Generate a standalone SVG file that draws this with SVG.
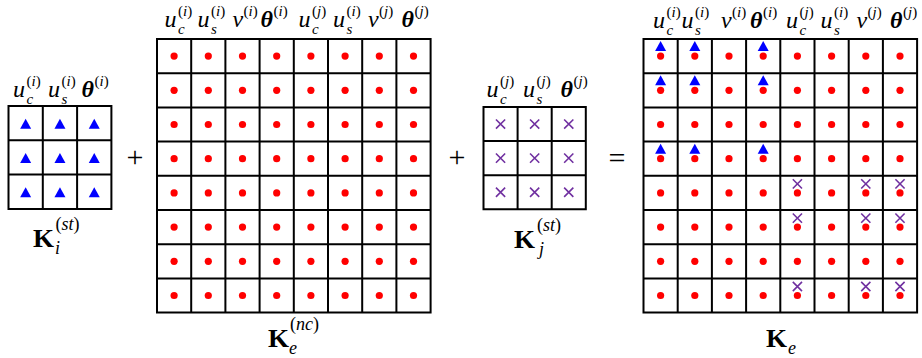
<svg xmlns="http://www.w3.org/2000/svg" xmlns:xlink="http://www.w3.org/1999/xlink" width="922" height="358" viewBox="0 0 922 358">
<style>
.m{font-family:"Liberation Serif",serif;font-style:italic;font-size:24px}
.th{font-family:"Liberation Serif",serif;font-style:italic;font-weight:bold;font-size:24px}
.s{font-family:"Liberation Serif",serif;font-size:15px}
.i{font-style:italic}
.k{font-family:"Liberation Serif",serif;font-weight:bold;font-size:25px}
.ks{font-family:"Liberation Serif",serif;font-size:18px}
.op{font-family:"Liberation Serif",serif;font-size:30px;text-anchor:middle}
.g{fill:none;stroke:#000;stroke-width:2}
</style>
<defs>
<circle id="d" r="3.6" fill="#ff0000"/>
<path id="t" d="M0,-5L5.5,5L-5.5,5Z" fill="#0000ff"/>
<path id="x" d="M-4.6,-4.6L4.6,4.6M4.6,-4.6L-4.6,4.6" stroke="#7030a0" stroke-width="1.6" fill="none"/>
</defs>
<rect width="922" height="358" fill="#fff"/>

<g id="Ki_st">
<text class="m" x="13" y="96.5">u</text><text class="s" x="26.5" y="85.5">(<tspan class="i">i</tspan>)</text><text class="s i" x="26.5" y="103.5">c</text>
<text class="m" x="48" y="96.5">u</text><text class="s" x="61.5" y="85.5">(<tspan class="i">i</tspan>)</text><text class="s i" x="61.5" y="103.5">s</text>
<text class="th" x="81.5" y="96.5">θ</text><text class="s" x="94.5" y="85.5">(<tspan class="i">i</tspan>)</text>
<path class="g" d="M8.5,106H111.4V208.9H8.5Z M42.8,106V208.9 M77.1,106V208.9 M8.5,140.3H111.4 M8.5,174.6H111.4"/>
<use xlink:href="#t" x="25.65" y="123.65"/><use xlink:href="#t" x="59.95" y="123.65"/><use xlink:href="#t" x="94.25" y="123.65"/>
<use xlink:href="#t" x="25.65" y="157.95"/><use xlink:href="#t" x="59.95" y="157.95"/><use xlink:href="#t" x="94.25" y="157.95"/>
<use xlink:href="#t" x="25.65" y="192.25"/><use xlink:href="#t" x="59.95" y="192.25"/><use xlink:href="#t" x="94.25" y="192.25"/>
<text class="k" x="33" y="247" textLength="21" lengthAdjust="spacingAndGlyphs">K</text>
<text class="ks" x="55.5" y="230">(<tspan class="i">st</tspan>)</text>
<text class="ks i" x="55" y="254">i</text>
</g>

<g id="Ke_nc">
<text class="m" x="164.5" y="27">u</text><text class="s" x="178" y="16">(<tspan class="i">i</tspan>)</text><text class="s i" x="178" y="34">c</text>
<text class="m" x="197.5" y="27">u</text><text class="s" x="211" y="16">(<tspan class="i">i</tspan>)</text><text class="s i" x="211" y="34">s</text>
<text class="m" x="232.5" y="27">v</text><text class="s" x="243.5" y="16">(<tspan class="i">i</tspan>)</text>
<text class="th" x="260.5" y="27">θ</text><text class="s" x="273.5" y="16">(<tspan class="i">i</tspan>)</text>
<text class="m" x="298.5" y="27">u</text><text class="s" x="312" y="16">(<tspan class="i">j</tspan>)</text><text class="s i" x="312" y="34">c</text>
<text class="m" x="333" y="27">u</text><text class="s" x="346.5" y="16">(<tspan class="i">i</tspan>)</text><text class="s i" x="346.5" y="34">s</text>
<text class="m" x="368" y="27">v</text><text class="s" x="379" y="16">(<tspan class="i">j</tspan>)</text>
<text class="th" x="401.5" y="27">θ</text><text class="s" x="414.5" y="16">(<tspan class="i">j</tspan>)</text>
<path class="g" d="M157,39H430.6V312.6H157Z M191.2,39V312.6 M225.4,39V312.6 M259.6,39V312.6 M293.8,39V312.6 M328,39V312.6 M362.2,39V312.6 M396.4,39V312.6 M157,73.2H430.6 M157,107.4H430.6 M157,141.6H430.6 M157,175.8H430.6 M157,210H430.6 M157,244.2H430.6 M157,278.4H430.6"/>
<g>
<use xlink:href="#d" x="174.1" y="56.1"/><use xlink:href="#d" x="208.3" y="56.1"/><use xlink:href="#d" x="242.5" y="56.1"/><use xlink:href="#d" x="276.7" y="56.1"/><use xlink:href="#d" x="310.9" y="56.1"/><use xlink:href="#d" x="345.1" y="56.1"/><use xlink:href="#d" x="379.3" y="56.1"/><use xlink:href="#d" x="413.5" y="56.1"/>
<use xlink:href="#d" x="174.1" y="90.3"/><use xlink:href="#d" x="208.3" y="90.3"/><use xlink:href="#d" x="242.5" y="90.3"/><use xlink:href="#d" x="276.7" y="90.3"/><use xlink:href="#d" x="310.9" y="90.3"/><use xlink:href="#d" x="345.1" y="90.3"/><use xlink:href="#d" x="379.3" y="90.3"/><use xlink:href="#d" x="413.5" y="90.3"/>
<use xlink:href="#d" x="174.1" y="124.5"/><use xlink:href="#d" x="208.3" y="124.5"/><use xlink:href="#d" x="242.5" y="124.5"/><use xlink:href="#d" x="276.7" y="124.5"/><use xlink:href="#d" x="310.9" y="124.5"/><use xlink:href="#d" x="345.1" y="124.5"/><use xlink:href="#d" x="379.3" y="124.5"/><use xlink:href="#d" x="413.5" y="124.5"/>
<use xlink:href="#d" x="174.1" y="158.7"/><use xlink:href="#d" x="208.3" y="158.7"/><use xlink:href="#d" x="242.5" y="158.7"/><use xlink:href="#d" x="276.7" y="158.7"/><use xlink:href="#d" x="310.9" y="158.7"/><use xlink:href="#d" x="345.1" y="158.7"/><use xlink:href="#d" x="379.3" y="158.7"/><use xlink:href="#d" x="413.5" y="158.7"/>
<use xlink:href="#d" x="174.1" y="192.9"/><use xlink:href="#d" x="208.3" y="192.9"/><use xlink:href="#d" x="242.5" y="192.9"/><use xlink:href="#d" x="276.7" y="192.9"/><use xlink:href="#d" x="310.9" y="192.9"/><use xlink:href="#d" x="345.1" y="192.9"/><use xlink:href="#d" x="379.3" y="192.9"/><use xlink:href="#d" x="413.5" y="192.9"/>
<use xlink:href="#d" x="174.1" y="227.1"/><use xlink:href="#d" x="208.3" y="227.1"/><use xlink:href="#d" x="242.5" y="227.1"/><use xlink:href="#d" x="276.7" y="227.1"/><use xlink:href="#d" x="310.9" y="227.1"/><use xlink:href="#d" x="345.1" y="227.1"/><use xlink:href="#d" x="379.3" y="227.1"/><use xlink:href="#d" x="413.5" y="227.1"/>
<use xlink:href="#d" x="174.1" y="261.3"/><use xlink:href="#d" x="208.3" y="261.3"/><use xlink:href="#d" x="242.5" y="261.3"/><use xlink:href="#d" x="276.7" y="261.3"/><use xlink:href="#d" x="310.9" y="261.3"/><use xlink:href="#d" x="345.1" y="261.3"/><use xlink:href="#d" x="379.3" y="261.3"/><use xlink:href="#d" x="413.5" y="261.3"/>
<use xlink:href="#d" x="174.1" y="295.5"/><use xlink:href="#d" x="208.3" y="295.5"/><use xlink:href="#d" x="242.5" y="295.5"/><use xlink:href="#d" x="276.7" y="295.5"/><use xlink:href="#d" x="310.9" y="295.5"/><use xlink:href="#d" x="345.1" y="295.5"/><use xlink:href="#d" x="379.3" y="295.5"/><use xlink:href="#d" x="413.5" y="295.5"/>
</g>
<text class="k" x="268" y="347" textLength="21" lengthAdjust="spacingAndGlyphs">K</text>
<text class="ks" x="290" y="330">(<tspan class="i">nc</tspan>)</text>
<text class="ks i" x="289" y="354">e</text>
</g>

<g id="Kj_st">
<text class="m" x="486.5" y="97">u</text><text class="s" x="500" y="86">(<tspan class="i">j</tspan>)</text><text class="s i" x="500" y="104">c</text>
<text class="m" x="523" y="97">u</text><text class="s" x="536.5" y="86">(<tspan class="i">j</tspan>)</text><text class="s i" x="536.5" y="104">s</text>
<text class="th" x="560.5" y="97">θ</text><text class="s" x="573.5" y="86">(<tspan class="i">j</tspan>)</text>
<path class="g" d="M483.5,107H585.8V209.3H483.5Z M517.6,107V209.3 M551.7,107V209.3 M483.5,141.1H585.8 M483.5,175.2H585.8"/>
<use xlink:href="#x" x="500.55" y="124.05"/><use xlink:href="#x" x="534.65" y="124.05"/><use xlink:href="#x" x="568.75" y="124.05"/>
<use xlink:href="#x" x="500.55" y="158.15"/><use xlink:href="#x" x="534.65" y="158.15"/><use xlink:href="#x" x="568.75" y="158.15"/>
<use xlink:href="#x" x="500.55" y="192.25"/><use xlink:href="#x" x="534.65" y="192.25"/><use xlink:href="#x" x="568.75" y="192.25"/>
<text class="k" x="514" y="248" textLength="21" lengthAdjust="spacingAndGlyphs">K</text>
<text class="ks" x="537" y="231">(<tspan class="i">st</tspan>)</text>
<text class="ks i" x="539" y="255">j</text>
</g>

<g id="Ke">
<text class="m" x="653" y="27.5">u</text><text class="s" x="666.5" y="16.5">(<tspan class="i">i</tspan>)</text><text class="s i" x="666.5" y="34.5">c</text>
<text class="m" x="681.5" y="27.5">u</text><text class="s" x="695" y="16.5">(<tspan class="i">i</tspan>)</text><text class="s i" x="695" y="34.5">s</text>
<text class="m" x="721" y="27.5">v</text><text class="s" x="732" y="16.5">(<tspan class="i">i</tspan>)</text>
<text class="th" x="750" y="27.5">θ</text><text class="s" x="763" y="16.5">(<tspan class="i">i</tspan>)</text>
<text class="m" x="786" y="27.5">u</text><text class="s" x="799.5" y="16.5">(<tspan class="i">j</tspan>)</text><text class="s i" x="799.5" y="34.5">c</text>
<text class="m" x="820.5" y="27.5">u</text><text class="s" x="834" y="16.5">(<tspan class="i">i</tspan>)</text><text class="s i" x="834" y="34.5">s</text>
<text class="m" x="856.5" y="27.5">v</text><text class="s" x="867.5" y="16.5">(<tspan class="i">j</tspan>)</text>
<text class="th" x="890" y="27.5">θ</text><text class="s" x="903" y="16.5">(<tspan class="i">j</tspan>)</text>
<path class="g" d="M643.5,39H917.1V312.6H643.5Z M677.7,39V312.6 M711.9,39V312.6 M746.1,39V312.6 M780.3,39V312.6 M814.5,39V312.6 M848.7,39V312.6 M882.9,39V312.6 M643.5,73.2H917.1 M643.5,107.4H917.1 M643.5,141.6H917.1 M643.5,175.8H917.1 M643.5,210H917.1 M643.5,244.2H917.1 M643.5,278.4H917.1"/>
<g>
<use xlink:href="#d" x="660.6" y="56.1"/><use xlink:href="#d" x="694.8" y="56.1"/><use xlink:href="#d" x="729" y="56.1"/><use xlink:href="#d" x="763.2" y="56.1"/><use xlink:href="#d" x="797.4" y="56.1"/><use xlink:href="#d" x="831.6" y="56.1"/><use xlink:href="#d" x="865.8" y="56.1"/><use xlink:href="#d" x="900" y="56.1"/>
<use xlink:href="#d" x="660.6" y="90.3"/><use xlink:href="#d" x="694.8" y="90.3"/><use xlink:href="#d" x="729" y="90.3"/><use xlink:href="#d" x="763.2" y="90.3"/><use xlink:href="#d" x="797.4" y="90.3"/><use xlink:href="#d" x="831.6" y="90.3"/><use xlink:href="#d" x="865.8" y="90.3"/><use xlink:href="#d" x="900" y="90.3"/>
<use xlink:href="#d" x="660.6" y="124.5"/><use xlink:href="#d" x="694.8" y="124.5"/><use xlink:href="#d" x="729" y="124.5"/><use xlink:href="#d" x="763.2" y="124.5"/><use xlink:href="#d" x="797.4" y="124.5"/><use xlink:href="#d" x="831.6" y="124.5"/><use xlink:href="#d" x="865.8" y="124.5"/><use xlink:href="#d" x="900" y="124.5"/>
<use xlink:href="#d" x="660.6" y="158.7"/><use xlink:href="#d" x="694.8" y="158.7"/><use xlink:href="#d" x="729" y="158.7"/><use xlink:href="#d" x="763.2" y="158.7"/><use xlink:href="#d" x="797.4" y="158.7"/><use xlink:href="#d" x="831.6" y="158.7"/><use xlink:href="#d" x="865.8" y="158.7"/><use xlink:href="#d" x="900" y="158.7"/>
<use xlink:href="#d" x="660.6" y="192.9"/><use xlink:href="#d" x="694.8" y="192.9"/><use xlink:href="#d" x="729" y="192.9"/><use xlink:href="#d" x="763.2" y="192.9"/><use xlink:href="#d" x="797.4" y="192.9"/><use xlink:href="#d" x="831.6" y="192.9"/><use xlink:href="#d" x="865.8" y="192.9"/><use xlink:href="#d" x="900" y="192.9"/>
<use xlink:href="#d" x="660.6" y="227.1"/><use xlink:href="#d" x="694.8" y="227.1"/><use xlink:href="#d" x="729" y="227.1"/><use xlink:href="#d" x="763.2" y="227.1"/><use xlink:href="#d" x="797.4" y="227.1"/><use xlink:href="#d" x="831.6" y="227.1"/><use xlink:href="#d" x="865.8" y="227.1"/><use xlink:href="#d" x="900" y="227.1"/>
<use xlink:href="#d" x="660.6" y="261.3"/><use xlink:href="#d" x="694.8" y="261.3"/><use xlink:href="#d" x="729" y="261.3"/><use xlink:href="#d" x="763.2" y="261.3"/><use xlink:href="#d" x="797.4" y="261.3"/><use xlink:href="#d" x="831.6" y="261.3"/><use xlink:href="#d" x="865.8" y="261.3"/><use xlink:href="#d" x="900" y="261.3"/>
<use xlink:href="#d" x="660.6" y="295.5"/><use xlink:href="#d" x="694.8" y="295.5"/><use xlink:href="#d" x="729" y="295.5"/><use xlink:href="#d" x="763.2" y="295.5"/><use xlink:href="#d" x="797.4" y="295.5"/><use xlink:href="#d" x="831.6" y="295.5"/><use xlink:href="#d" x="865.8" y="295.5"/><use xlink:href="#d" x="900" y="295.5"/>
</g>
<g>
<use xlink:href="#t" x="660.6" y="46.1"/><use xlink:href="#t" x="694.8" y="46.1"/><use xlink:href="#t" x="763.2" y="46.1"/>
<use xlink:href="#t" x="660.6" y="80.3"/><use xlink:href="#t" x="694.8" y="80.3"/><use xlink:href="#t" x="763.2" y="80.3"/>
<use xlink:href="#t" x="660.6" y="148.7"/><use xlink:href="#t" x="694.8" y="148.7"/><use xlink:href="#t" x="763.2" y="148.7"/>
</g>
<g>
<use xlink:href="#x" x="797.4" y="183.9"/><use xlink:href="#x" x="865.8" y="183.9"/><use xlink:href="#x" x="900" y="183.9"/>
<use xlink:href="#x" x="797.4" y="218.1"/><use xlink:href="#x" x="865.8" y="218.1"/><use xlink:href="#x" x="900" y="218.1"/>
<use xlink:href="#x" x="797.4" y="286.5"/><use xlink:href="#x" x="865.8" y="286.5"/><use xlink:href="#x" x="900" y="286.5"/>
</g>
<text class="k" x="766" y="347" textLength="21" lengthAdjust="spacingAndGlyphs">K</text>
<text class="ks i" x="788" y="354">e</text>
</g>

<g id="operators">
<text class="op" x="135" y="167">+</text>
<text class="op" x="457" y="167">+</text>
<text class="op" x="617" y="168">=</text>
</g>
</svg>
